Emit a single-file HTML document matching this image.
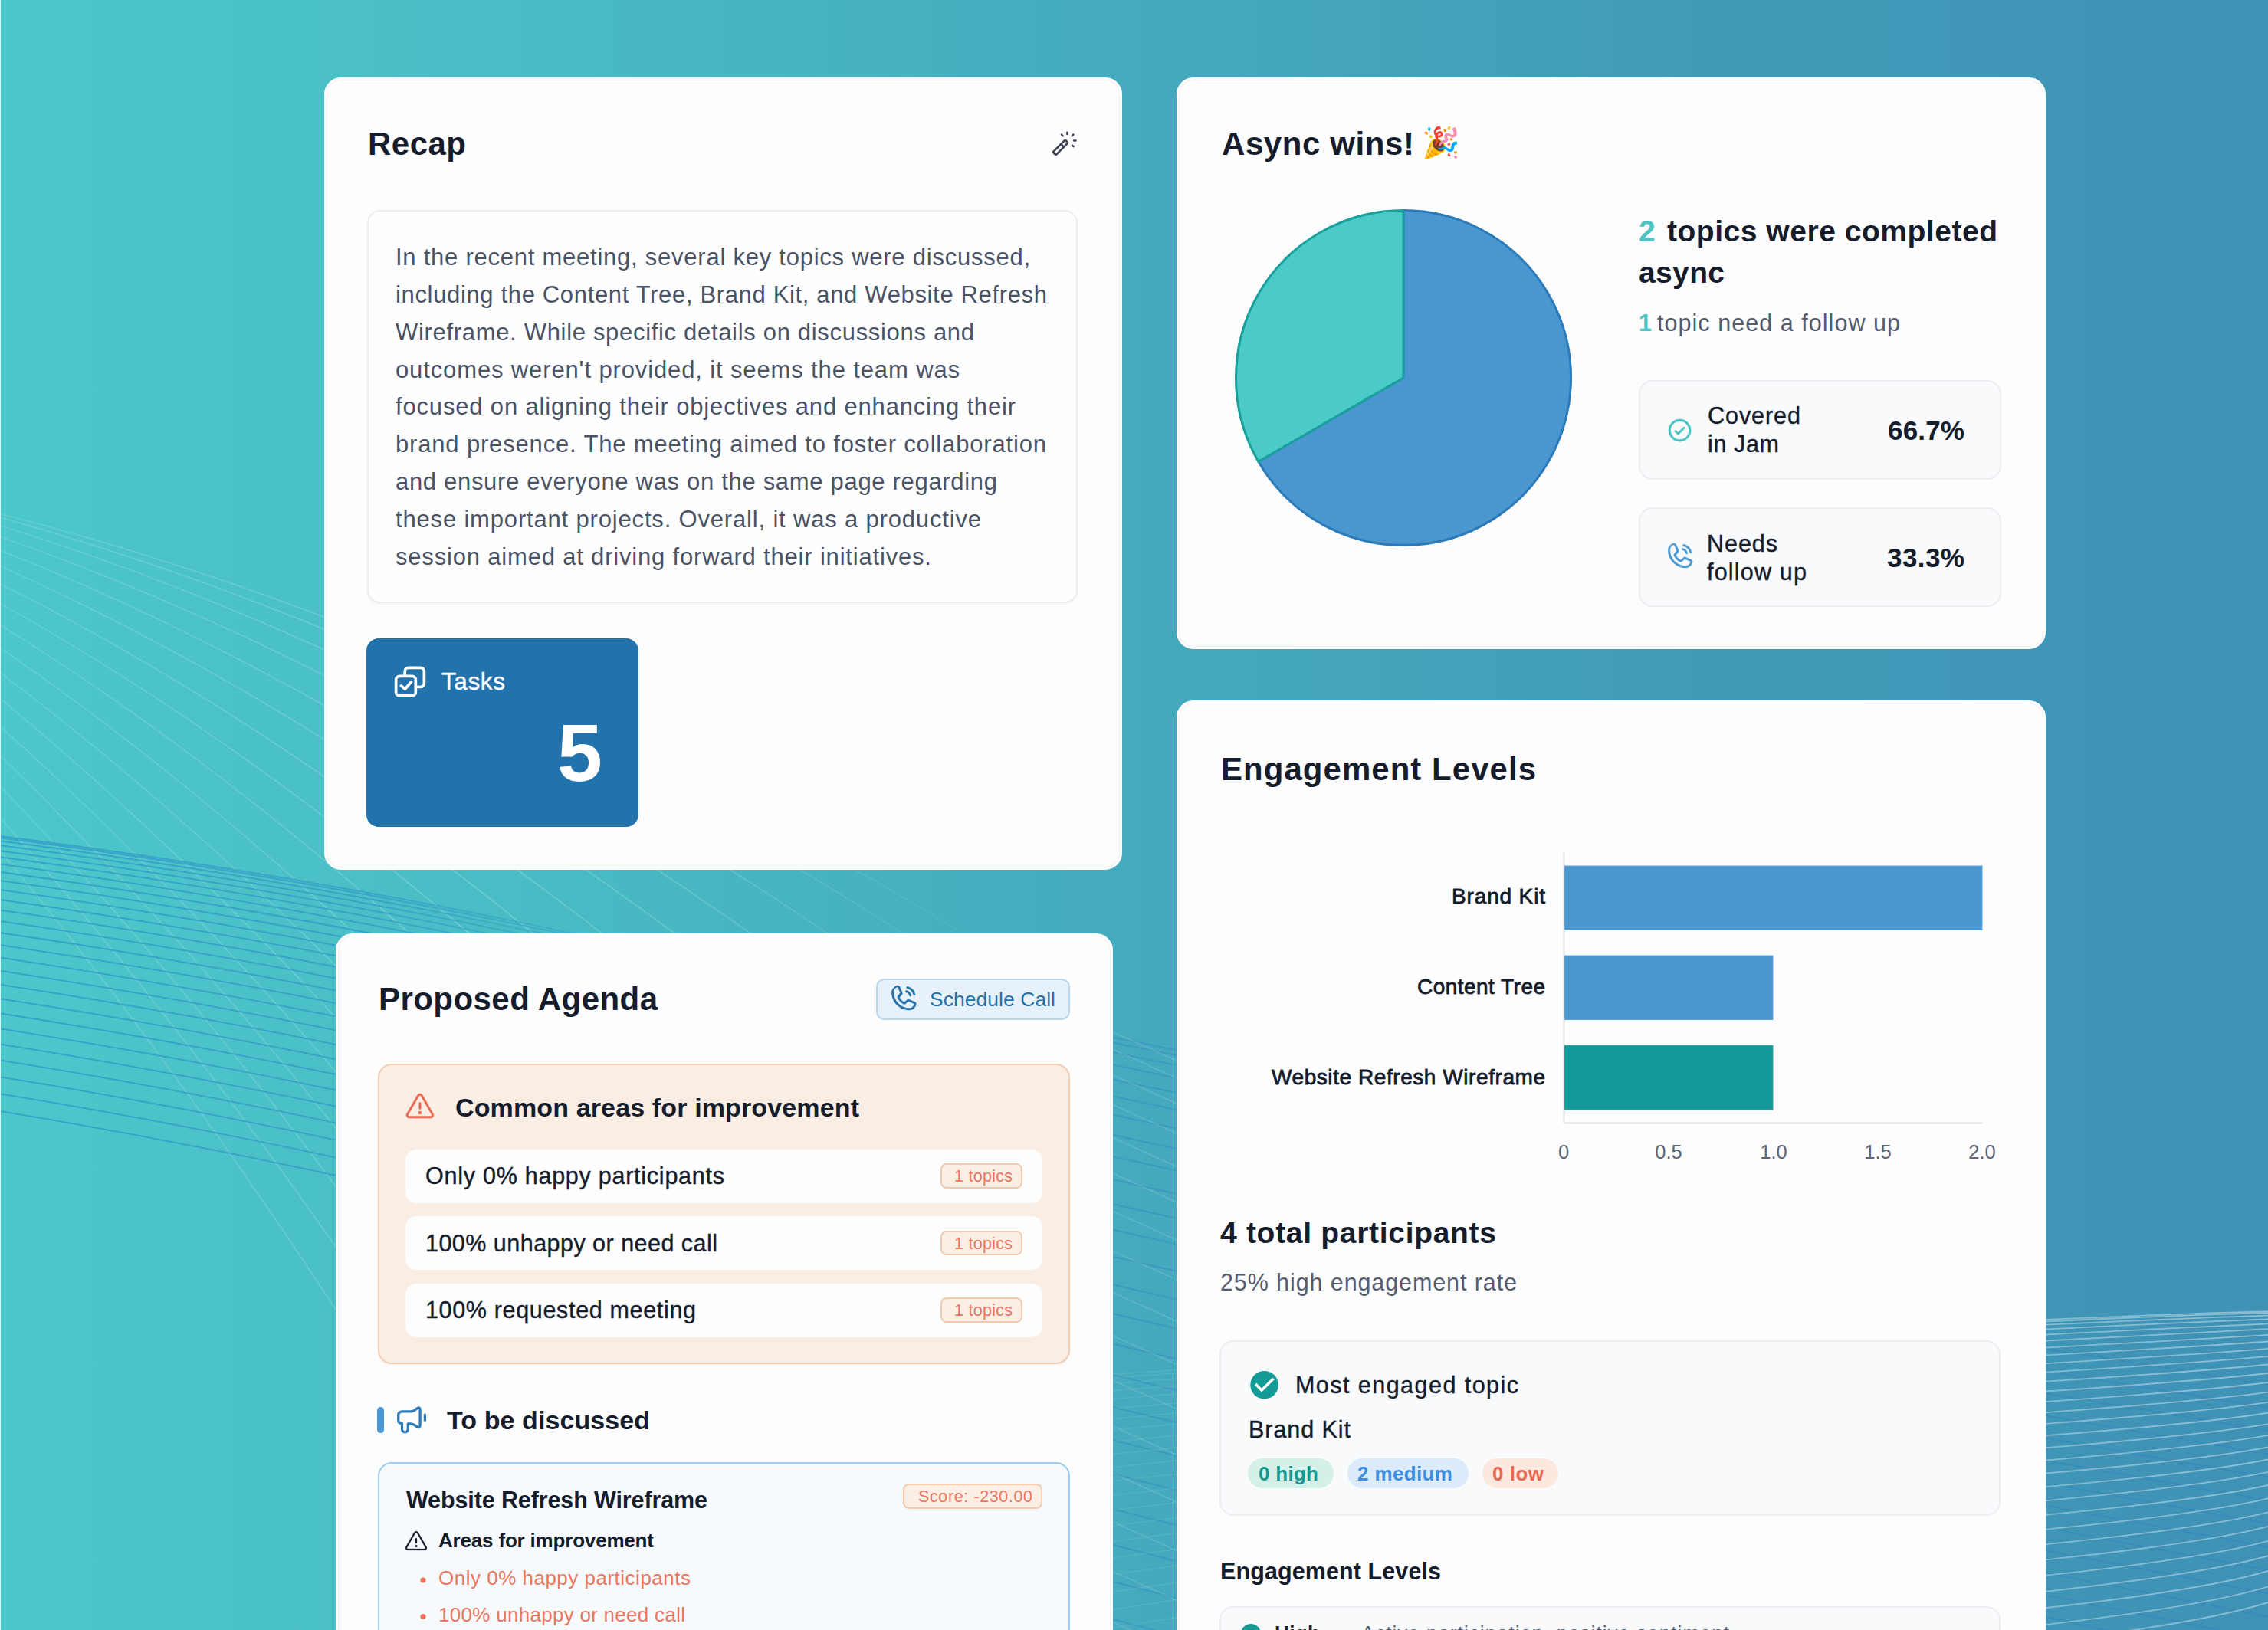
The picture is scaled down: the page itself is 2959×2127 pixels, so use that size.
<!DOCTYPE html>
<html lang="en"><head><meta charset="utf-8"><title>Meeting summary</title>
<style>
html,body{margin:0;padding:0;}
body{width:2959px;height:2127px;overflow:hidden;background:#45aabd;}
#pg{position:relative;width:2959px;height:2127px;overflow:hidden;font-family:"Liberation Sans",sans-serif;
  background:linear-gradient(90deg,#4cc7ca 0%,#48b9c3 28%,#45aabd 50%,#419bb8 75%,#3f92b6 100%);}
.t{position:absolute;white-space:pre;line-height:1;font-family:"Liberation Sans",sans-serif;}
.b{position:absolute;box-sizing:border-box;}
.card{background:#fdfdfe;border:3px solid #fff;border-radius:22px;box-shadow:inset 0 0 0 1px #eeeef3;}
.soft{background:#f8fafc;border:2px solid #eceef2;border-radius:18px;}
.inner{background:#fefefe;border:2px solid #ecedf1;border-radius:17px;box-shadow:0 2px 3px rgba(20,30,60,.04);}
.row{background:#fdfdfd;border-radius:14px;}
.badge{background:#fbeee5;border:2px solid #efcaae;border-radius:8px;}
.pill{border-radius:20px;}
svg{position:absolute;left:0;top:0;overflow:visible;}
.emoji{position:absolute;line-height:1;font-family:"Liberation Sans",sans-serif;}

</style></head>
<body>
<div id="pg">
<svg width="2959" height="2127" viewBox="0 0 2959 2127"><defs><linearGradient id="gblue" gradientUnits="userSpaceOnUse" x1="0" y1="0" x2="1150" y2="0"><stop offset="0" stop-color="#2f98c8" stop-opacity=".75"/><stop offset=".4" stop-color="#2f98c8" stop-opacity=".7"/><stop offset=".7" stop-color="#2f98c8" stop-opacity=".25"/><stop offset="1" stop-color="#2f98c8" stop-opacity="0"/></linearGradient><linearGradient id="gwhite" gradientUnits="userSpaceOnUse" x1="0" y1="0" x2="1350" y2="0"><stop offset="0" stop-color="#fff" stop-opacity=".13"/><stop offset=".5" stop-color="#fff" stop-opacity=".2"/><stop offset=".75" stop-color="#fff" stop-opacity=".13"/><stop offset="1" stop-color="#fff" stop-opacity="0"/></linearGradient><linearGradient id="gwhite2" gradientUnits="userSpaceOnUse" x1="1400" y1="0" x2="2970" y2="0"><stop offset="0" stop-color="#fff" stop-opacity=".05"/><stop offset=".7" stop-color="#fff" stop-opacity=".3"/><stop offset="1" stop-color="#fff" stop-opacity=".42"/></linearGradient></defs><g fill="none" stroke="url(#gwhite)" stroke-width="1.6"><path d="M-5,668.7Q672,843.9 1350,1276.2"/><path d="M-5,673.8Q672,862.2 1350,1332.9"/><path d="M-5,684.2Q672,894.3 1350,1411.8"/><path d="M-5,698.5Q672,935.2 1350,1504.6"/><path d="M-5,715.9Q672,983.1 1350,1608.4"/><path d="M-5,736.2Q672,1037.2 1350,1721.6"/><path d="M-5,759.1Q672,1096.8 1350,1843.0"/><path d="M-5,784.4Q672,1161.3 1350,1971.9"/><path d="M-5,812.1Q672,1230.4 1350,2107.7"/><path d="M-5,841.8Q672,1303.8 1350,2250.0"/><path d="M-5,873.7Q672,1381.3 1350,2398.4"/><path d="M-5,907.5Q672,1462.6 1350,2552.4"/><path d="M-5,943.2Q672,1547.5 1350,2711.9"/><path d="M-5,980.8Q623,1588.2 1251,2698.4"/><path d="M-5,1020.1Q558,1607.8 1120,2616.2"/><path d="M-5,1061.2Q500,1628.5 1004,2548.3"/><path d="M-5,1104.0Q448,1649.9 900,2490.6"/></g><g fill="none" stroke="url(#gblue)" stroke-width="2"><path d="M-5,1090.4Q572,1162.2 1150,1314.1"/><path d="M-5,1092.5Q572,1165.2 1150,1318.0"/><path d="M-5,1096.7Q572,1170.4 1150,1324.1"/><path d="M-5,1102.4Q572,1177.0 1150,1331.7"/><path d="M-5,1109.5Q572,1185.0 1150,1340.6"/><path d="M-5,1117.7Q572,1194.1 1150,1350.6"/><path d="M-5,1126.9Q572,1204.3 1150,1361.7"/><path d="M-5,1137.2Q572,1215.5 1150,1373.8"/><path d="M-5,1148.3Q572,1227.5 1150,1386.8"/><path d="M-5,1160.3Q572,1240.5 1150,1400.7"/><path d="M-5,1173.2Q572,1254.2 1150,1415.4"/><path d="M-5,1186.8Q572,1268.8 1150,1430.9"/><path d="M-5,1201.2Q572,1284.1 1150,1447.1"/><path d="M-5,1216.4Q572,1300.2 1150,1464.1"/><path d="M-5,1232.2Q572,1317.0 1150,1481.8"/><path d="M-5,1248.8Q572,1334.5 1150,1500.2"/><path d="M-5,1266.0Q572,1352.7 1150,1519.3"/><path d="M-5,1283.9Q572,1371.5 1150,1539.1"/><path d="M-5,1302.5Q572,1390.9 1150,1559.5"/><path d="M-5,1321.6Q572,1411.0 1150,1580.5"/><path d="M-5,1341.4Q572,1431.7 1150,1602.1"/><path d="M-5,1361.8Q572,1453.1 1150,1624.3"/><path d="M-5,1382.8Q572,1475.0 1150,1647.2"/><path d="M-5,1404.4Q572,1497.4 1150,1670.6"/><path d="M-5,1426.5Q572,1520.5 1150,1694.6"/><path d="M-5,1449.2Q572,1544.1 1150,1719.1"/></g><g fill="none" stroke="#2f7fc2" stroke-opacity=".34" stroke-width="2"><path d="M1400,1343.2L1600,1383.2"/><path d="M1400,1349.9L1600,1390.4"/><path d="M1400,1362.4L1600,1403.4"/><path d="M1400,1378.5L1600,1420.1"/><path d="M1400,1397.7L1600,1439.7"/><path d="M1400,1419.4L1600,1462.0"/><path d="M1400,1443.5L1600,1486.6"/><path d="M1400,1469.6L1600,1513.3"/><path d="M1400,1497.8L1600,1541.9"/><path d="M1400,1527.7L1600,1572.4"/><path d="M1400,1559.4L1600,1604.6"/><path d="M1400,1592.7L1600,1638.5"/><path d="M1400,1627.6L1600,1673.9"/><path d="M1400,1664.0L1600,1710.8"/><path d="M1400,1701.8L1600,1749.1"/><path d="M1400,1741.0L1600,1788.8"/><path d="M1400,1781.5L1600,1829.8"/><path d="M1400,1823.3L1600,1872.2"/><path d="M1400,1866.4L1600,1915.8"/><path d="M1400,1910.7L1600,1960.6"/><path d="M1400,1956.1L1600,2006.6"/><path d="M1400,2002.8L1600,2053.7"/><path d="M1400,2050.5L1600,2102.0"/><path d="M1400,2099.4L1600,2151.4"/><path d="M2600,1748.8L2970,1808.0"/><path d="M2600,1777.8L2970,1838.4"/><path d="M2600,1806.7L2970,1868.8"/><path d="M2600,1835.7L2970,1899.2"/><path d="M2600,1864.6L2970,1929.5"/><path d="M2600,1893.6L2970,1959.9"/><path d="M2600,1922.6L2970,1990.3"/><path d="M2600,1951.5L2970,2020.7"/><path d="M2600,1980.5L2970,2051.1"/><path d="M2600,2009.5L2970,2081.5"/><path d="M2600,2038.4L2970,2111.8"/><path d="M2600,2067.4L2970,2142.2"/><path d="M2600,2096.3L2970,2172.6"/><path d="M2600,2125.3L2970,2203.0"/></g><g fill="none" stroke="#fff" stroke-opacity=".13" stroke-width="1.6"><path d="M1400,1323.2L1600,1413.2"/><path d="M1400,1346.0L1600,1436.0"/><path d="M1400,1379.3L1600,1469.3"/><path d="M1400,1418.2L1600,1508.2"/><path d="M1400,1461.3L1600,1551.3"/><path d="M1400,1507.8L1600,1597.8"/><path d="M1400,1557.2L1600,1647.2"/><path d="M1400,1609.1L1600,1699.1"/><path d="M1400,1663.3L1600,1753.3"/><path d="M1400,1719.6L1600,1809.6"/><path d="M1400,1777.7L1600,1867.7"/><path d="M1400,1837.7L1600,1927.7"/><path d="M1400,1899.3L1600,1989.3"/><path d="M1400,1962.5L1600,2052.5"/><path d="M1400,2027.1L1600,2117.1"/><path d="M1400,2093.2L1600,2183.2"/></g><g fill="none" stroke="url(#gwhite2)" stroke-width="1.8"><path d="M1400,1796.8 Q2200,1743.0 2670,1722.0 T2970,1720.0" /><path d="M1400,1801.2 Q2200,1745.8 2670,1724.3 T2970,1720.8" /><path d="M1400,1808.9 Q2200,1750.9 2670,1728.7 T2970,1722.8" /><path d="M1400,1818.5 Q2200,1757.6 2670,1734.5 T2970,1725.7" /><path d="M1400,1829.7 Q2200,1765.5 2670,1741.5 T2970,1729.4" /><path d="M1400,1842.2 Q2200,1774.6 2670,1749.5 T2970,1733.8" /><path d="M1400,1855.9 Q2200,1784.7 2670,1758.5 T2970,1739.0" /><path d="M1400,1870.6 Q2200,1795.6 2670,1768.4 T2970,1744.9" /><path d="M1400,1886.3 Q2200,1807.4 2670,1779.1 T2970,1751.5" /><path d="M1400,1902.9 Q2200,1820.0 2670,1790.5 T2970,1758.7" /><path d="M1400,1920.3 Q2200,1833.4 2670,1802.6 T2970,1766.6" /><path d="M1400,1938.5 Q2200,1847.4 2670,1815.5 T2970,1775.0" /><path d="M1400,1957.5 Q2200,1862.2 2670,1829.0 T2970,1784.0" /><path d="M1400,1977.1 Q2200,1877.6 2670,1843.1 T2970,1793.7" /><path d="M1400,1997.5 Q2200,1893.6 2670,1857.8 T2970,1803.9" /><path d="M1400,2018.5 Q2200,1910.2 2670,1873.2 T2970,1814.6" /><path d="M1400,2040.2 Q2200,1927.4 2670,1889.1 T2970,1826.0" /><path d="M1400,2062.4 Q2200,1945.2 2670,1905.5 T2970,1837.8" /><path d="M1400,2085.2 Q2200,1963.5 2670,1922.5 T2970,1850.2" /><path d="M1400,2108.6 Q2200,1982.4 2670,1940.1 T2970,1863.1" /><path d="M1400,2132.6 Q2200,2001.8 2670,1958.1 T2970,1876.6" /><path d="M1400,2157.1 Q2200,2021.7 2670,1976.7 T2970,1890.5" /><path d="M1400,2182.1 Q2200,2042.1 2670,1995.7 T2970,1905.0" /><path d="M1400,2207.6 Q2200,2063.0 2670,2015.2 T2970,1920.0" /><path d="M1400,2233.7 Q2200,2084.3 2670,2035.2 T2970,1935.4" /><path d="M1400,2260.2 Q2200,2106.2 2670,2055.7 T2970,1951.4" /><path d="M1400,2287.1 Q2200,2128.4 2670,2076.6 T2970,1967.8" /><path d="M1400,2314.6 Q2200,2151.2 2670,2098.0 T2970,1984.7" /><path d="M1400,2342.5 Q2200,2174.4 2670,2119.8 T2970,2002.1" /><path d="M1400,2370.8 Q2200,2198.0 2670,2142.0 T2970,2020.0" /></g></svg>
<div class="b" style="left:0;top:0;width:1px;height:2127px;background:#d6fbfb"></div>
<div class="b card" style="left:423px;top:101px;width:1041px;height:1034px;"></div>
<div class="b card" style="left:438px;top:1218px;width:1014px;height:982px;"></div>
<div class="b card" style="left:1535px;top:101px;width:1134px;height:746px;"></div>
<div class="b card" style="left:1535px;top:914px;width:1134px;height:1286px;"></div>
<div class="b inner" style="left:479px;top:274px;width:927px;height:513px;"></div>
<div class="b " style="left:478px;top:833px;width:355px;height:246px;background:#2272ac;border-radius:16px;"></div>
<div class="b " style="left:1143px;top:1277px;width:253px;height:54px;background:#e7f1fa;border:2px solid #b9d8f0;border-radius:11px;"></div>
<div class="b " style="left:493px;top:1388px;width:903px;height:392px;background:#f9ede4;border:2px solid #f2ceb5;border-radius:18px;box-shadow:0 2px 3px rgba(120,60,20,.06);"></div>
<div class="b row" style="left:529px;top:1500px;width:831px;height:70px;"></div>
<div class="b badge" style="left:1227px;top:1518px;width:107px;height:33px;"></div>
<div class="b row" style="left:529px;top:1587px;width:831px;height:70px;"></div>
<div class="b badge" style="left:1227px;top:1606px;width:107px;height:32px;"></div>
<div class="b row" style="left:529px;top:1675px;width:831px;height:70px;"></div>
<div class="b badge" style="left:1227px;top:1693px;width:107px;height:33px;"></div>
<div class="b " style="left:492px;top:1836px;width:8.5px;height:34px;background:#4a96d2;border-radius:5px;"></div>
<div class="b " style="left:493px;top:1908px;width:903px;height:292px;background:#f6fafd;border:2px solid #9fcdee;border-radius:18px;"></div>
<div class="b badge" style="left:1178px;top:1936px;width:182px;height:33px;"></div>
<div class="b soft" style="left:2138px;top:496px;width:473px;height:130px;"></div>
<div class="b soft" style="left:2138px;top:662px;width:473px;height:130px;"></div>
<div class="b soft" style="left:1591px;top:1749px;width:1019px;height:229px;"></div>
<div class="b soft" style="left:1591px;top:2096px;width:1019px;height:104px;"></div>
<div class="b pill" style="left:1628px;top:1903px;width:112px;height:39px;background:#d3f0e9;"></div>
<div class="b pill" style="left:1758px;top:1903px;width:158px;height:39px;background:#dcebfb;"></div>
<div class="b pill" style="left:1934px;top:1903px;width:99px;height:39px;background:#fce8df;"></div>
<div class="b " style="left:1619px;top:2119px;width:26px;height:26px;background:#149a93;border-radius:50%;"></div>
<svg width="2959" height="2127" viewBox="0 0 2959 2127"><path d="M1831,493 L1831,274.5 A218.5,218.5 0 1 1 1641.77,602.25 Z" fill="#4a97d0" stroke="#2b7bbb" stroke-width="3" stroke-linejoin="round"/><path d="M1831,493 L1641.77,602.25 A218.5,218.5 0 0 1 1831,274.5 Z" fill="#4bcac7" stroke="#18a09c" stroke-width="3" stroke-linejoin="round"/><path d="M2040.5,1112V1466M2040,1465.5H2587" stroke="#dcdfe4" stroke-width="2" fill="none"/><rect x="2041.5" y="1130" width="544.5" height="83.5" fill="#4a97d0" stroke="#5ea3d8" stroke-width="1"/><rect x="2041.5" y="1247" width="271.5" height="83.5" fill="#4a97d0" stroke="#5ea3d8" stroke-width="1"/><rect x="2041.5" y="1364.5" width="271.5" height="83.5" fill="#14999a" stroke="#2aa5a4" stroke-width="1"/><g stroke="#3b4053" stroke-width="2.6" fill="none" stroke-linecap="round" stroke-linejoin="round"><g transform="translate(1383.6,192.4) rotate(-45)"><rect x="-11.3" y="-2.7" width="22.6" height="5.4" rx="1.6"/><path d="M3.6,-2.7V2.7"/></g><path d="M1392.4,172.7v2.3M1385,175.7l1.6,1.6M1400.3,175.7l-1.6,1.6M1401.2,183.5h2.3M1398.9,189.6l1.6,1.6"/></g><g stroke="#fff" stroke-width="3.7" fill="none" stroke-linecap="round" stroke-linejoin="round"><rect x="516.6" y="882.4" width="25.7" height="25.4" rx="4.5"/><path d="M528.2,882V875.8a4.5,4.5 0 0 1 4.5,-4.5H548.9a4.5,4.5 0 0 1 4.5,4.5V891.8a4.5,4.5 0 0 1 -4.5,4.5H542.7"/><path d="M523.4,894.9L528.4,899.2L536.6,889.8"/></g><g stroke="#2e7bbb" stroke-width="3.3" fill="none" stroke-linecap="round" stroke-linejoin="round"><path d="M525,1841.9H535.6Q538,1841.9 540.2,1840.6L544.6,1837.6Q548.1,1835.6 548.1,1839.6V1860Q548.1,1864 544.6,1862L540.2,1859.2Q538,1857.9 535.6,1857.9H532.3V1865.2A3.9,3.6 0 0 1 524.5,1865.2V1857.4Q519.7,1857.4 519.7,1853V1846.9Q519.7,1841.9 525,1841.9Z"/><path d="M554.4,1846.2V1853.2"/></g><path transform="translate(1159.5,1280.9) scale(0.1602)" fill="#2471a8" stroke="#2471a8" stroke-width="2.5" stroke-linejoin="round" d="M144.27,45.93a8,8,0,0,1,9.8-5.66,86.22,86.22,0,0,1,61.66,61.66,8,8,0,0,1-5.66,9.8A8.23,8.23,0,0,1,208,112a8,8,0,0,1-7.73-5.94,70.35,70.35,0,0,0-50.33-50.33A8,8,0,0,1,144.27,45.93Zm-2.33,41.8c13.79,3.68,22.65,12.54,26.33,26.33A8,8,0,0,0,176,120a8.23,8.23,0,0,0,2.07-.27,8,8,0,0,0,5.66-9.8c-5.12-19.16-18.5-32.54-37.66-37.66a8,8,0,1,0-4.13,15.46Zm81.94,95.35A56.26,56.26,0,0,1,168,232C88.6,232,24,167.4,24,88A56.26,56.26,0,0,1,72.92,32.12a16,16,0,0,1,16.62,9.52l21.12,47.15,0,.12A16,16,0,0,1,109.39,104c-.18.27-.37.52-.57.77L88,129.45c7.49,15.22,23.41,31,38.83,38.51l24.34-20.71a8.12,8.12,0,0,1,.75-.56,16,16,0,0,1,15.17-1.4l.13.06,47.11,21.11A16,16,0,0,1,223.88,183.08Zm-15.88-2s-.07,0-.11,0h0l-47-21.05-24.35,20.71a8.44,8.44,0,0,1-.74.56,16,16,0,0,1-15.75,1.14c-18.73-9.05-37.4-27.58-46.46-46.11a16,16,0,0,1-1-15.7,6.13,6.13,0,0,1,.52-.78L93.9,91.05l-21-47a.61.61,0,0,1,0-.12A40.2,40.2,0,0,0,40,88,128.14,128.14,0,0,0,168,216,40.21,40.21,0,0,0,208,181.07Z"/><path transform="translate(2172.4,703.8) scale(0.1602)" fill="#4a97d1" stroke="#4a97d1" stroke-width="2.5" stroke-linejoin="round" d="M144.27,45.93a8,8,0,0,1,9.8-5.66,86.22,86.22,0,0,1,61.66,61.66,8,8,0,0,1-5.66,9.8A8.23,8.23,0,0,1,208,112a8,8,0,0,1-7.73-5.94,70.35,70.35,0,0,0-50.33-50.33A8,8,0,0,1,144.27,45.93Zm-2.33,41.8c13.79,3.68,22.65,12.54,26.33,26.33A8,8,0,0,0,176,120a8.23,8.23,0,0,0,2.07-.27,8,8,0,0,0,5.66-9.8c-5.12-19.16-18.5-32.54-37.66-37.66a8,8,0,1,0-4.13,15.46Zm81.94,95.35A56.26,56.26,0,0,1,168,232C88.6,232,24,167.4,24,88A56.26,56.26,0,0,1,72.92,32.12a16,16,0,0,1,16.62,9.52l21.12,47.15,0,.12A16,16,0,0,1,109.39,104c-.18.27-.37.52-.57.77L88,129.45c7.49,15.22,23.41,31,38.83,38.51l24.34-20.71a8.12,8.12,0,0,1,.75-.56,16,16,0,0,1,15.17-1.4l.13.06,47.11,21.11A16,16,0,0,1,223.88,183.08Zm-15.88-2s-.07,0-.11,0h0l-47-21.05-24.35,20.71a8.44,8.44,0,0,1-.74.56,16,16,0,0,1-15.75,1.14c-18.73-9.05-37.4-27.58-46.46-46.11a16,16,0,0,1-1-15.7,6.13,6.13,0,0,1,.52-.78L93.9,91.05l-21-47a.61.61,0,0,1,0-.12A40.2,40.2,0,0,0,40,88,128.14,128.14,0,0,0,168,216,40.21,40.21,0,0,0,208,181.07Z"/><path transform="translate(527.4,1423.2) scale(0.1602)" fill="#e8684f" stroke="#e8684f" stroke-width="3" stroke-linejoin="round" d="M236.8,188.09,149.35,36.22h0a24.76,24.76,0,0,0-42.7,0L19.2,188.09a23.51,23.51,0,0,0,0,23.72A24.35,24.35,0,0,0,40.55,224h174.9a24.35,24.35,0,0,0,21.33-12.19A23.51,23.51,0,0,0,236.8,188.09ZM222.93,203.8a8.5,8.5,0,0,1-7.48,4.2H40.55a8.5,8.5,0,0,1-7.48-4.2,7.59,7.59,0,0,1,0-7.72L120.52,44.21a8.75,8.75,0,0,1,15,0l87.45,151.87A7.59,7.59,0,0,1,222.93,203.8ZM120,144V104a8,8,0,0,1,16,0v40a8,8,0,0,1-16,0Zm20,36a12,12,0,1,1-12-12A12,12,0,0,1,140,180Z"/><path transform="translate(527.0,1995.0) scale(0.1250)" fill="#151c2c" stroke="#151c2c" stroke-width="2" stroke-linejoin="round" d="M236.8,188.09,149.35,36.22h0a24.76,24.76,0,0,0-42.7,0L19.2,188.09a23.51,23.51,0,0,0,0,23.72A24.35,24.35,0,0,0,40.55,224h174.9a24.35,24.35,0,0,0,21.33-12.19A23.51,23.51,0,0,0,236.8,188.09ZM222.93,203.8a8.5,8.5,0,0,1-7.48,4.2H40.55a8.5,8.5,0,0,1-7.48-4.2,7.59,7.59,0,0,1,0-7.72L120.52,44.21a8.75,8.75,0,0,1,15,0l87.45,151.87A7.59,7.59,0,0,1,222.93,203.8ZM120,144V104a8,8,0,0,1,16,0v40a8,8,0,0,1-16,0Zm20,36a12,12,0,1,1-12-12A12,12,0,0,1,140,180Z"/><path transform="translate(2173.7,543.7) scale(0.1395)" fill="#4bc4c4" stroke="#4bc4c4" stroke-width="7" stroke-linejoin="round" d="M173.66,98.34a8,8,0,0,1,0,11.32l-56,56a8,8,0,0,1-11.32,0l-24-24a8,8,0,0,1,11.32-11.32L112,148.69l50.34-50.35A8,8,0,0,1,173.66,98.34ZM232,128A104,104,0,1,1,128,24,104.11,104.11,0,0,1,232,128Zm-16,0a88,88,0,1,0-88,88A88.1,88.1,0,0,0,216,128Z"/><circle cx="1649.6" cy="1807.2" r="18.3" fill="#139b96"/><path d="M1638.2,1806L1646,1814.1L1661.5,1798.9" fill="none" stroke="#fff" stroke-width="3.5"/><circle cx="552" cy="2062" r="3.6" fill="#e8705a"/><circle cx="552" cy="2109.5" r="3.6" fill="#e8705a"/></svg>
<span class="emoji" style="left:1855px;top:166px;font-size:40px;">🎉</span>
<span class="t" style="left:480px;top:167.4px;font-size:42px;font-weight:700;color:#151c2c;letter-spacing:0.484px;">Recap</span>
<span class="t" style="left:516px;top:319.8px;font-size:31px;font-weight:400;color:#4a5366;letter-spacing:0.755px;">In the recent meeting, several key topics were discussed,</span>
<span class="t" style="left:516px;top:368.7px;font-size:31px;font-weight:400;color:#4a5366;letter-spacing:0.653px;">including the Content Tree, Brand Kit, and Website Refresh</span>
<span class="t" style="left:516px;top:417.6px;font-size:31px;font-weight:400;color:#4a5366;letter-spacing:0.683px;">Wireframe. While specific details on discussions and</span>
<span class="t" style="left:516px;top:466.5px;font-size:31px;font-weight:400;color:#4a5366;letter-spacing:0.870px;">outcomes weren't provided, it seems the team was</span>
<span class="t" style="left:516px;top:515.4px;font-size:31px;font-weight:400;color:#4a5366;letter-spacing:0.828px;">focused on aligning their objectives and enhancing their</span>
<span class="t" style="left:516px;top:564.3px;font-size:31px;font-weight:400;color:#4a5366;letter-spacing:0.831px;">brand presence. The meeting aimed to foster collaboration</span>
<span class="t" style="left:516px;top:613.2px;font-size:31px;font-weight:400;color:#4a5366;letter-spacing:0.686px;">and ensure everyone was on the same page regarding</span>
<span class="t" style="left:516px;top:662.1px;font-size:31px;font-weight:400;color:#4a5366;letter-spacing:0.826px;">these important projects. Overall, it was a productive</span>
<span class="t" style="left:516px;top:711.0px;font-size:31px;font-weight:400;color:#4a5366;letter-spacing:0.816px;">session aimed at driving forward their initiatives.</span>
<span class="t" style="left:576px;top:874.3px;font-size:31.5px;font-weight:400;color:#ffffff;letter-spacing:0.617px;-webkit-text-stroke:.4px;">Tasks</span>
<span class="t" style="left:727px;top:929.3px;font-size:106px;font-weight:700;color:#ffffff;">5</span>
<span class="t" style="left:494px;top:1283.4px;font-size:42px;font-weight:700;color:#151c2c;letter-spacing:0.441px;">Proposed Agenda</span>
<span class="t" style="left:1213px;top:1290.6px;font-size:26.5px;font-weight:400;color:#2471a8;letter-spacing:0.039px;">Schedule Call</span>
<span class="t" style="left:594px;top:1428.2px;font-size:34px;font-weight:700;color:#151c2c;letter-spacing:0.135px;">Common areas for improvement</span>
<span class="t" style="left:555px;top:1519.2px;font-size:30.5px;font-weight:400;color:#151c2c;letter-spacing:0.748px;-webkit-text-stroke:.4px;">Only 0% happy participants</span>
<span class="t" style="left:1245px;top:1525.3px;font-size:21.5px;font-weight:400;color:#e8775f;letter-spacing:0.270px;">1 topics</span>
<span class="t" style="left:555px;top:1606.7px;font-size:30.5px;font-weight:400;color:#151c2c;letter-spacing:0.472px;-webkit-text-stroke:.4px;">100% unhappy or need call</span>
<span class="t" style="left:1245px;top:1612.8px;font-size:21.5px;font-weight:400;color:#e8775f;letter-spacing:0.270px;">1 topics</span>
<span class="t" style="left:555px;top:1694.2px;font-size:30.5px;font-weight:400;color:#151c2c;letter-spacing:0.661px;-webkit-text-stroke:.4px;">100% requested meeting</span>
<span class="t" style="left:1245px;top:1700.3px;font-size:21.5px;font-weight:400;color:#e8775f;letter-spacing:0.270px;">1 topics</span>
<span class="t" style="left:583px;top:1836.2px;font-size:34px;font-weight:700;color:#151c2c;letter-spacing:0.079px;">To be discussed</span>
<span class="t" style="left:530px;top:1942.2px;font-size:30.5px;font-weight:700;color:#151c2c;letter-spacing:-0.117px;">Website Refresh Wireframe</span>
<span class="t" style="left:1198px;top:1943.3px;font-size:21.5px;font-weight:400;color:#e8775f;letter-spacing:0.613px;">Score: -230.00</span>
<span class="t" style="left:572px;top:1997.0px;font-size:26px;font-weight:700;color:#151c2c;letter-spacing:-0.183px;">Areas for improvement</span>
<span class="t" style="left:572px;top:2046.0px;font-size:26px;font-weight:400;color:#e8775f;letter-spacing:0.499px;">Only 0% happy participants</span>
<span class="t" style="left:572px;top:2094.0px;font-size:26px;font-weight:400;color:#e8775f;letter-spacing:0.286px;">100% unhappy or need call</span>
<span class="t" style="left:1594px;top:167.4px;font-size:42px;font-weight:700;color:#151c2c;letter-spacing:0.592px;">Async wins!</span>
<span class="t" style="left:2138px;top:282.0px;font-size:39px;font-weight:700;color:#4bc4c4;">2</span>
<span class="t" style="left:2175px;top:282.0px;font-size:39px;font-weight:700;color:#151c2c;letter-spacing:0.527px;">topics were completed</span>
<span class="t" style="left:2138px;top:336.0px;font-size:39px;font-weight:700;color:#151c2c;letter-spacing:0.352px;">async</span>
<span class="t" style="left:2138px;top:406.2px;font-size:30.5px;font-weight:700;color:#4bc4c4;">1</span>
<span class="t" style="left:2162px;top:406.2px;font-size:30.5px;font-weight:400;color:#545c70;letter-spacing:1.045px;">topic need a follow up</span>
<span class="t" style="left:2228px;top:527.2px;font-size:30.5px;font-weight:400;color:#151c2c;letter-spacing:0.951px;-webkit-text-stroke:.4px;">Covered</span>
<span class="t" style="left:2228px;top:564.2px;font-size:30.5px;font-weight:400;color:#151c2c;letter-spacing:0.631px;-webkit-text-stroke:.4px;">in Jam</span>
<span class="t" style="left:2463px;top:544.4px;font-size:35px;font-weight:700;color:#151c2c;letter-spacing:0.188px;">66.7%</span>
<span class="t" style="left:2227px;top:694.2px;font-size:30.5px;font-weight:400;color:#151c2c;letter-spacing:0.957px;-webkit-text-stroke:.4px;">Needs</span>
<span class="t" style="left:2227px;top:731.2px;font-size:30.5px;font-weight:400;color:#151c2c;letter-spacing:1.201px;-webkit-text-stroke:.4px;">follow up</span>
<span class="t" style="left:2462px;top:710.4px;font-size:35px;font-weight:700;color:#151c2c;letter-spacing:0.438px;">33.3%</span>
<span class="t" style="left:1593px;top:983.4px;font-size:42px;font-weight:700;color:#151c2c;letter-spacing:1.033px;">Engagement Levels</span>
<span class="t" style="left:1894px;top:1156.3px;font-size:28px;font-weight:400;color:#141b2b;letter-spacing:0.854px;-webkit-text-stroke:.8px #141b2b;">Brand Kit</span>
<span class="t" style="left:1849px;top:1274.3px;font-size:28px;font-weight:400;color:#141b2b;letter-spacing:0.466px;-webkit-text-stroke:.8px #141b2b;">Content Tree</span>
<span class="t" style="left:1659px;top:1392.3px;font-size:28px;font-weight:400;color:#141b2b;letter-spacing:0.568px;-webkit-text-stroke:.8px #141b2b;">Website Refresh Wireframe</span>
<span class="t" style="left:2040px;top:1491.4px;font-size:25.5px;font-weight:400;color:#5d6473;transform:translateX(-50%);">0</span>
<span class="t" style="left:2177px;top:1491.4px;font-size:25.5px;font-weight:400;color:#5d6473;transform:translateX(-50%);">0.5</span>
<span class="t" style="left:2314px;top:1491.4px;font-size:25.5px;font-weight:400;color:#5d6473;transform:translateX(-50%);">1.0</span>
<span class="t" style="left:2450px;top:1491.4px;font-size:25.5px;font-weight:400;color:#5d6473;transform:translateX(-50%);">1.5</span>
<span class="t" style="left:2586px;top:1491.4px;font-size:25.5px;font-weight:400;color:#5d6473;transform:translateX(-50%);">2.0</span>
<span class="t" style="left:1592px;top:1589.0px;font-size:39px;font-weight:700;color:#151c2c;letter-spacing:0.698px;">4 total participants</span>
<span class="t" style="left:1592px;top:1658.2px;font-size:30.5px;font-weight:400;color:#545c70;letter-spacing:0.901px;">25% high engagement rate</span>
<span class="t" style="left:1690px;top:1792.2px;font-size:30.5px;font-weight:400;color:#151c2c;letter-spacing:1.458px;-webkit-text-stroke:.4px;">Most engaged topic</span>
<span class="t" style="left:1629px;top:1850.2px;font-size:30.5px;font-weight:400;color:#151c2c;letter-spacing:0.941px;-webkit-text-stroke:.4px;">Brand Kit</span>
<span class="t" style="left:1642px;top:1910.0px;font-size:26px;font-weight:700;color:#149a93;letter-spacing:0.287px;">0 high</span>
<span class="t" style="left:1771px;top:1910.0px;font-size:26px;font-weight:700;color:#3d8fe0;letter-spacing:0.375px;">2 medium</span>
<span class="t" style="left:1947px;top:1910.0px;font-size:26px;font-weight:700;color:#e8674f;letter-spacing:0.496px;">0 low</span>
<span class="t" style="left:1592px;top:2035.2px;font-size:30.5px;font-weight:700;color:#151c2c;letter-spacing:0.096px;">Engagement Levels</span>
<span class="t" style="left:1663px;top:2118.0px;font-size:26px;font-weight:700;color:#151c2c;letter-spacing:0.411px;">High</span>
<span class="t" style="left:1776px;top:2118.0px;font-size:26px;font-weight:400;color:#545c70;letter-spacing:1.006px;">Active participation, positive sentiment</span>
</div>
</body></html>
